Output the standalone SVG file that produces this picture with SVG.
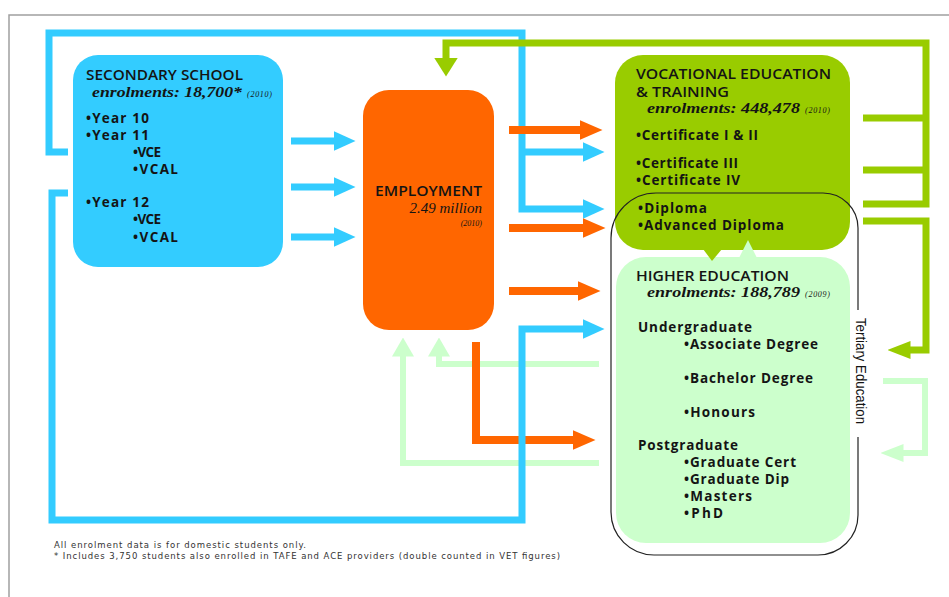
<svg xmlns="http://www.w3.org/2000/svg" width="949" height="597" viewBox="0 0 949 597">
<style>
.h{font-family:"Open Sans","Liberation Sans",sans-serif;font-weight:600;fill:#141414;font-size:14px;}
.en{font-family:"Liberation Serif",serif;font-weight:bold;font-style:italic;fill:#141414;font-size:15px;}
.yr{font-family:"Liberation Serif",serif;font-style:italic;fill:#141414;font-size:8px;}
.b{font-family:"Open Sans","Liberation Sans",sans-serif;font-weight:700;fill:#141414;font-size:13.5px;}
.fn{font-family:"DejaVu Sans",sans-serif;fill:#333;font-size:8.5px;}
.cb{fill:none;stroke:#33ccff;stroke-width:7;}
.co{fill:none;stroke:#ff6600;stroke-width:8;}
.cg{fill:none;stroke:#99cc00;stroke-width:7;}
.cl{fill:none;stroke:#ccffcc;stroke-width:6;}
</style>
<defs>
<marker id="mb" markerUnits="userSpaceOnUse" viewBox="0 -10 22 20" refX="0.5" refY="0" markerWidth="22" markerHeight="20" orient="auto"><path d="M0,-10L22,0L0,10z" fill="#33ccff"/></marker>
<marker id="mo" markerUnits="userSpaceOnUse" viewBox="0 -10 23 20" refX="0.5" refY="0" markerWidth="23" markerHeight="20" orient="auto"><path d="M0,-10L23,0L0,10z" fill="#ff6600"/></marker>
<marker id="mg1" markerUnits="userSpaceOnUse" viewBox="0 -12 19 24" refX="0.5" refY="0" markerWidth="19" markerHeight="24" orient="auto"><path d="M0,-12L19,0L0,12z" fill="#99cc00"/></marker>
<marker id="mg2" markerUnits="userSpaceOnUse" viewBox="0 -9 23 18" refX="0.5" refY="0" markerWidth="23" markerHeight="18" orient="auto"><path d="M0,-9L23,0L0,9z" fill="#99cc00"/></marker>
<marker id="ml1" markerUnits="userSpaceOnUse" viewBox="0 -11 19 22" refX="0.5" refY="0" markerWidth="19" markerHeight="22" orient="auto"><path d="M0,-11L19,0L0,11z" fill="#ccffcc"/></marker>
<marker id="ml2" markerUnits="userSpaceOnUse" viewBox="0 -9 23 18" refX="0.5" refY="0" markerWidth="23" markerHeight="18" orient="auto"><path d="M0,-9L23,0L0,9z" fill="#ccffcc"/></marker>
</defs>
<rect width="949" height="597" fill="#fff"/>
<path d="M9,597V15H949" fill="none" stroke="#a0a0a0" stroke-width="1.5"/>

<g id="connectors">
<polyline class="cl" points="599,463 403,463 403,356" marker-end="url(#ml1)"/>
<polyline class="cl" points="599,364 439,364 439,356" marker-end="url(#ml1)"/>
<polyline class="cl" points="883,381 925,381 925,453 903,453" marker-end="url(#ml2)"/>
<polyline class="co" points="476,342 476,440 573,440" marker-end="url(#mo)"/>
<polyline class="cb" points="68,152 49,152 49,33 522,33 522,209 583,209" marker-end="url(#mb)"/>
<line class="cb" x1="522" y1="152" x2="583" y2="152" marker-end="url(#mb)"/>
<polyline class="cb" points="68,193 52,193 52,520 522,520 522,329 583,329" marker-end="url(#mb)"/>
<line class="cb" x1="291" y1="141" x2="334" y2="141" marker-end="url(#mb)"/>
<line class="cb" x1="291" y1="187" x2="334" y2="187" marker-end="url(#mb)"/>
<line class="cb" x1="291" y1="237" x2="334" y2="237" marker-end="url(#mb)"/>
<line class="co" x1="509" y1="130" x2="580" y2="130" marker-end="url(#mo)"/>
<line class="co" x1="509" y1="228" x2="583" y2="228" marker-end="url(#mo)"/>
<line class="co" x1="509" y1="291" x2="578" y2="291" marker-end="url(#mo)"/>
<polyline class="cg" points="863,204 926,204 926,43 446,43 446,58" marker-end="url(#mg1)"/>
<line class="cg" x1="863" y1="118" x2="926" y2="118"/>
<line class="cg" x1="863" y1="170" x2="926" y2="170"/>
<polyline class="cg" points="863,221 926,221 926,350 910,350" marker-end="url(#mg2)"/>
</g>

<g id="secondary">
<rect x="73" y="55" width="210" height="212" rx="25" fill="#33ccff"/>
<text class="h" x="86" y="80" textLength="157" lengthAdjust="spacingAndGlyphs">SECONDARY SCHOOL</text>
<text class="en" x="92" y="97" textLength="150" lengthAdjust="spacingAndGlyphs">enrolments: 18,700*</text>
<text class="yr" x="247" y="97" textLength="25">(2010)</text>
<text class="b" x="86" y="123" textLength="63">•Year 10</text>
<text class="b" x="86" y="140" textLength="63">•Year 11</text>
<text class="b" x="133" y="157" textLength="28">•VCE</text>
<text class="b" x="133" y="174" textLength="45">•VCAL</text>
<text class="b" x="86" y="207" textLength="63">•Year 12</text>
<text class="b" x="133" y="224" textLength="28">•VCE</text>
<text class="b" x="133" y="242" textLength="45">•VCAL</text>
</g>

<g id="employment">
<rect x="363" y="90" width="131" height="240" rx="26" fill="#ff6600"/>
<text class="h" x="375" y="196" textLength="107" lengthAdjust="spacingAndGlyphs">EMPLOYMENT</text>
<text class="en" x="482" y="213" text-anchor="end" style="font-weight:normal">2.49 million</text>
<text class="yr" x="482" y="226" text-anchor="end">(2010)</text>
</g>

<g id="vet">
<rect x="615" y="55" width="235" height="195" rx="28" fill="#99cc00"/>
<text class="h" x="636" y="79" style="font-size:13.5px" textLength="195" lengthAdjust="spacingAndGlyphs">VOCATIONAL EDUCATION</text>
<text class="h" x="636" y="97" style="font-size:13.5px" textLength="93" lengthAdjust="spacingAndGlyphs">&amp; TRAINING</text>
<text class="en" x="647" y="113" textLength="153" lengthAdjust="spacingAndGlyphs">enrolments: 448,478</text>
<text class="yr" x="805" y="113" textLength="25">(2010)</text>
<text class="b" x="636" y="140" textLength="122">•Certificate I &amp; II</text>
<text class="b" x="636" y="168" textLength="102">•Certificate III</text>
<text class="b" x="636" y="185" textLength="104">•Certificate IV</text>
<text class="b" x="638" y="213" textLength="69">•Diploma</text>
<text class="b" x="638" y="230" textLength="146">•Advanced Diploma</text>
</g>

<g id="higher-education">
<rect x="616" y="257" width="234" height="286" rx="30" fill="#ccffcc"/>
<path d="M703,249L712,261L722,249z" fill="#99cc00"/>
<path d="M739,258L748,240L757,258z" fill="#ccffcc"/>
<text class="h" x="636" y="281" textLength="153" lengthAdjust="spacingAndGlyphs">HIGHER EDUCATION</text>
<text class="en" x="647" y="297" textLength="153" lengthAdjust="spacingAndGlyphs">enrolments: 188,789</text>
<text class="yr" x="805" y="297" textLength="25">(2009)</text>
<text class="b" x="638" y="332" textLength="114">Undergraduate</text>
<text class="b" x="684" y="349" textLength="134">•Associate Degree</text>
<text class="b" x="684" y="383" textLength="129">•Bachelor Degree</text>
<text class="b" x="684" y="417" textLength="71">•Honours</text>
<text class="b" x="638" y="450" textLength="100">Postgraduate</text>
<text class="b" x="684" y="467" textLength="112">•Graduate Cert</text>
<text class="b" x="684" y="484" textLength="105">•Graduate Dip</text>
<text class="b" x="684" y="501" textLength="68">•Masters</text>
<text class="b" x="684" y="518" textLength="39">•PhD</text>
</g>

<g id="tertiary">
<path d="M858,310V228A35,35 0 0 0 823,193H656A45,45 0 0 0 611,238V512A43,43 0 0 0 654,555H818A40,40 0 0 0 858,515V437" fill="none" stroke="#222" stroke-width="1.2"/>
<text transform="translate(856,318) rotate(90)" font-family="Liberation Sans, sans-serif" font-size="14" fill="#141414" textLength="106" lengthAdjust="spacingAndGlyphs">Tertiary Education</text>
</g>

<g id="notes">
<text class="fn" x="54" y="548" textLength="252">All enrolment data is for domestic students only.</text>
<text class="fn" x="54" y="559" textLength="506">* Includes 3,750 students also enrolled in TAFE and ACE providers (double counted in VET figures)</text>
</g>
</svg>
